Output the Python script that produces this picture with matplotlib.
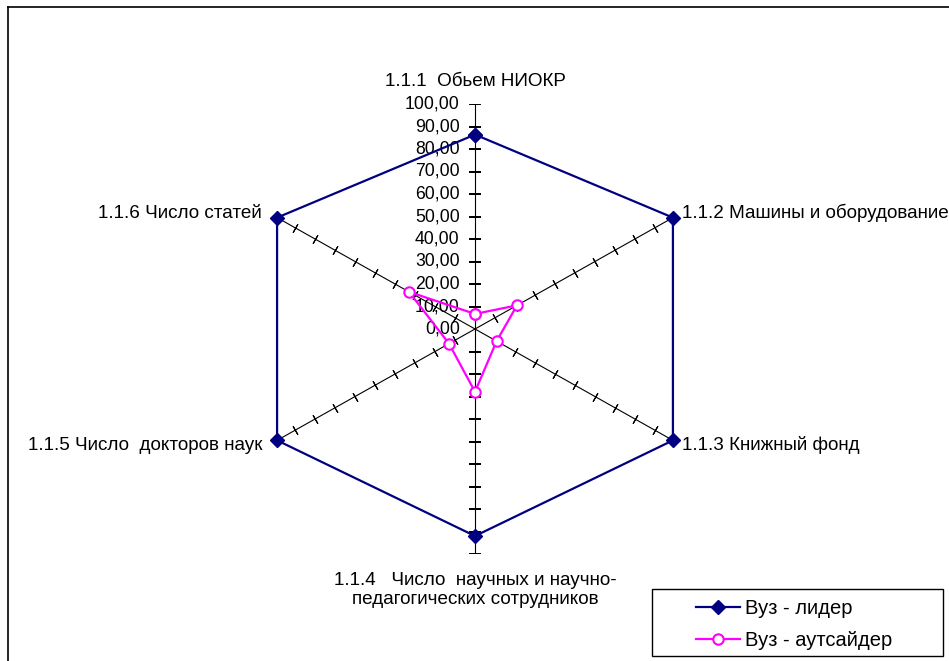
import numpy as np
import matplotlib
matplotlib.use('Agg')
import matplotlib.pyplot as plt
from matplotlib.lines import Line2D
from matplotlib.patches import Rectangle

plt.rcParams['font.family'] = ['Liberation Sans', 'DejaVu Sans']

categories = [
    '1.1.1  Обьем НИОКР',
    '1.1.2 Машины и оборудование',
    '1.1.3 Книжный фонд',
    '1.1.4   Число  научных и научно-\nпедагогических сотрудников',
    '1.1.5 Число  докторов наук',
    '1.1.6 Число статей',
]
leader = [86.4, 99.0, 99.0, 92.0, 99.0, 99.0]
outsider = [6.7, 21.0, 10.8, 27.9, 13.0, 33.0]
r_ticks = list(range(0, 101, 10))
r_tick_labels = ['%d,00' % v for v in r_ticks]
series_names = ['Вуз - лидер', 'Вуз - аутсайдер']

W, H = 949, 661
fig = plt.figure(figsize=(W / 100, H / 100), dpi=100)

# outer chart frame (cut at the right and bottom)
fig.add_artist(Line2D([8 / W, 8 / W], [0, 1 - 7 / H], color='black', lw=1.2))
fig.add_artist(Line2D([8 / W, 1], [1 - 7 / H, 1 - 7 / H], color='black', lw=1.2))

# plot area is a touch wider than tall
cx, cy, rad_y = 475, 329, 225
rad_x = rad_y * 1.026
ax = fig.add_axes([(cx - rad_x) / W, (H - cy - rad_y) / H, 2 * rad_x / W, 2 * rad_y / H],
                  projection='polar')
ax.set_aspect('auto')
ax.set_theta_zero_location('N')
ax.set_theta_direction(-1)
ax.set_ylim(0, 100)
ax.grid(False)
ax.set_xticks([])
ax.set_yticks([])
ax.spines['polar'].set_visible(False)
ax.patch.set_alpha(0)

n = len(categories)
theta = np.arange(n) * 2 * np.pi / n

# spokes: the vertical ones run to 100, the others to the leader value
for i, th in enumerate(theta):
    vertical = i in (0, 3)
    r_end = 100 if vertical else leader[i]
    ax.plot([th, th], [0, r_end], color='black', lw=0.8, zorder=1)
    tick_r = [r for r in r_ticks if 0 < r <= r_end]
    ang = 90 - np.degrees(th)
    ax.plot([th] * len(tick_r), tick_r, ls='none', marker=(2, 2, ang),
            ms=9 if vertical else 7, mec='black',
            mew=1.3 if vertical else 0.8, zorder=1)

# value labels along the top spoke
for r, lab in zip(r_ticks, r_tick_labels):
    ax.annotate(lab, xy=(0, r), xytext=(-11, 0), textcoords='offset points',
                ha='right', va='center', fontsize=12.7)

th_closed = np.append(theta, theta[0])
l1, = ax.plot(th_closed, leader + leader[:1], color='#000080', lw=1.6,
              marker='D', ms=7, mfc='#000080', mec='#000080', zorder=3,
              clip_on=False)
l2, = ax.plot(th_closed, outsider + outsider[:1], color='#FF00FF', lw=1.6,
              marker='o', ms=7.5, mfc='white', mec='#FF00FF', mew=1.5, zorder=4,
              clip_on=False)

# category labels
fs = 13.6
fig.text(cx / W, 1 - 82 / H, categories[0], ha='center', va='center', fontsize=fs)
fig.text(682 / W, 1 - 213 / H, categories[1], ha='left', va='center', fontsize=fs)
fig.text(682 / W, 1 - 445 / H, categories[2], ha='left', va='center', fontsize=fs)
fig.text(cx / W, 1 - 590 / H, categories[3], ha='center', va='center',
         fontsize=fs, multialignment='center', linespacing=1.2)
fig.text(262 / W, 1 - 446 / H, categories[4], ha='right', va='center', fontsize=fs)
fig.text(262 / W, 1 - 213 / H, categories[5], ha='right', va='center', fontsize=fs)

# legend box with entries shifted to the right
fig.add_artist(Rectangle((652 / W, 1 - 656 / H), 291 / W, 67 / H,
                         transform=fig.transFigure, fill=False,
                         edgecolor='black', lw=1.0))
fig.legend([l1, l2], series_names, loc='center left',
           bbox_to_anchor=(696 / W, 1 - 624.5 / H), frameon=False,
           fontsize=14.5, handlelength=2.2, handletextpad=0.25,
           labelspacing=0.62, borderpad=0, borderaxespad=0)

fig.savefig('out.png', dpi=100, facecolor='white')
